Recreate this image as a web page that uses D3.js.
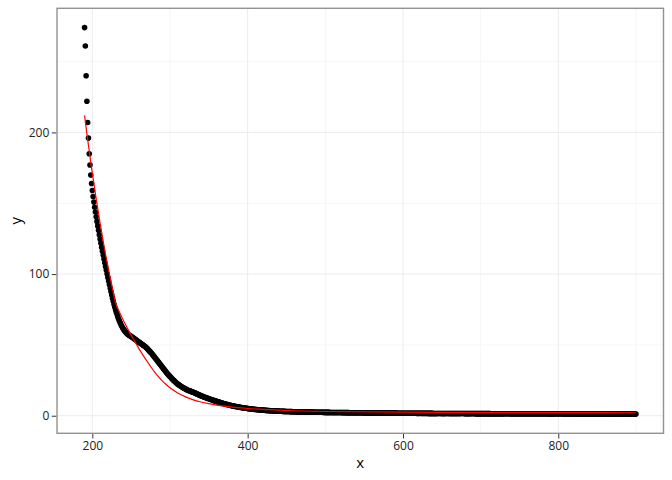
<!DOCTYPE html>
<html>
<head>
<meta charset="utf-8">
<script src="https://cdn.jsdelivr.net/npm/d3@7"></script>
<style>
html,body{margin:0;padding:0;background:#fff;}
svg{display:block;}
text{font-family:"Open Sans",sans-serif;}
</style>
</head>
<body>
<svg id="chart" width="672" height="480"></svg>
<script>
// ---------------- data ----------------
const xStart = 190;
const xEnd = 900;
const pointY = [
274,261,240,222,207,196,185,177,170,164,
159,154.8,150.8,147.2,143.8,140.5,137.2,134,130.9,127.8,
124.8,121.9,119,116.2,113.4,110.7,108,105.4,102.8,100.2,
97.6,95.1,92.6,90.1,87.7,85.3,83,80.8,78.6,76.6,
74.7,72.9,71.2,69.6,68.1,66.7,65.4,64.2,63.1,62.1,
61.2,60.4,59.7,59,58.4,57.9,57.4,57,56.6,56.3,
56,55.6,55.2,54.8,54.4,54,53.6,53.2,52.8,52.4,
52,51.6,51.2,50.8,50.4,50,49.6,49.2,48.8,48.3,
47.8,47.2,46.6,46,45.4,44.8,44.2,43.5,42.8,42.1,
41.4,40.7,40,39.3,38.6,37.9,37.2,36.5,35.8,35.1,
34.4,33.7,33,32.3,31.6,30.9,30.2,29.5,28.9,28.3,
27.7,27.1,26.5,25.9,25.3,24.8,24.3,23.8,23.3,22.8,
22.4,22,21.6,21.2,20.8,20.4,20.1,19.8,19.5,19.2,
18.9,18.6,18.3,18,17.8,17.6,17.4,17.2,17,16.8,
16.6,16.35,16.1,15.85,15.6,15.35,15.1,14.85,14.6,14.35,
14.1,13.88,13.66,13.44,13.22,13,12.8,12.6,12.4,12.2,
12,11.8,11.6,11.4,11.2,11,10.82,10.64,10.46,10.28,
10.1,9.93,9.76,9.59,9.42,9.25,9.09,8.93,8.77,8.61,
8.45,8.3,8.15,8,7.86,7.72,7.58,7.44,7.31,7.18,
7.05,6.93,6.81,6.69,6.58,6.47,6.36,6.25,6.15,6.05,
5.95,5.86,5.77,5.68,5.59,5.5,5.42,5.34,5.26,5.18,
5.1,5.03,4.96,4.89,4.82,4.75,4.68,4.62,4.56,4.5,
4.44,4.38,4.32,4.27,4.22,4.17,4.12,4.07,4.02,3.97,
3.92,3.88,3.84,3.8,3.76,3.72,3.68,3.64,3.6,3.56,
3.53,3.5,3.47,3.44,3.41,3.38,3.35,3.32,3.29,3.26,
3.23,3.2,3.17,3.14,3.12,3.1,3.08,3.06,3.04,3.02,
3,2.98,2.96,2.94,2.92,2.9,2.88,2.86,2.84,2.82,
2.8,2.78,2.76,2.74,2.72,2.7,2.69,2.68,2.67,2.66,
2.65,2.64,2.63,2.62,2.61,2.6,2.59,2.58,2.57,2.56,
2.55,2.54,2.53,2.52,2.51,2.5,2.49,2.48,2.47,2.46,
2.45,2.44,2.43,2.42,2.41,2.41,2.4,2.39,2.38,2.37,
2.36,2.35,2.35,2.34,2.33,2.33,2.32,2.31,2.31,2.3,
2.29,2.29,2.28,2.27,2.27,2.26,2.25,2.25,2.24,2.23,
2.23,2.22,2.21,2.21,2.2,2.19,2.19,2.18,2.17,2.17,
2.16,2.15,2.15,2.14,2.13,2.13,2.12,2.11,2.11,2.1,
2.09,2.09,2.08,2.07,2.07,2.06,2.05,2.05,2.04,2.03,
2.03,2.02,2.01,2.01,2,1.99,1.99,1.98,1.98,1.97,
1.96,1.96,1.95,1.95,1.94,1.93,1.93,1.92,1.92,1.91,
1.9,1.9,1.89,1.89,1.88,1.88,1.87,1.87,1.86,1.86,
1.85,1.85,1.84,1.84,1.83,1.83,1.82,1.82,1.81,1.81,
1.8,1.8,1.8,1.79,1.79,1.78,1.78,1.78,1.77,1.77,
1.76,1.76,1.75,1.75,1.75,1.74,1.74,1.73,1.73,1.73,
1.72,1.72,1.71,1.71,1.71,1.7,1.7,1.7,1.69,1.69,
1.69,1.68,1.68,1.68,1.67,1.67,1.67,1.66,1.66,1.66,
1.65,1.65,1.65,1.64,1.64,1.64,1.63,1.63,1.63,1.62,
1.62,1.62,1.61,1.61,1.61,1.6,1.6,1.6,1.6,1.59,
1.59,1.59,1.58,1.58,1.58,1.58,1.57,1.57,1.57,1.56,
1.56,1.56,1.56,1.55,1.55,1.55,1.55,1.54,1.54,1.54,
1.54,1.53,1.53,1.53,1.53,1.52,1.52,1.52,1.52,1.51,
1.51,1.51,1.51,1.5,1.5,1.5,1.5,1.5,1.49,1.49,
1.49,1.49,1.49,1.48,1.48,1.48,1.48,1.48,1.47,1.47,
1.47,1.47,1.47,1.46,1.46,1.46,1.46,1.46,1.45,1.45,
1.45,1.45,1.45,1.44,1.44,1.44,1.44,1.44,1.44,1.43,
1.43,1.43,1.43,1.43,1.43,1.42,1.42,1.42,1.42,1.42,
1.42,1.41,1.41,1.41,1.41,1.41,1.41,1.4,1.4,1.4,
1.4,1.4,1.4,1.4,1.39,1.39,1.39,1.39,1.39,1.39,
1.39,1.38,1.38,1.38,1.38,1.38,1.38,1.38,1.38,1.37,
1.37,1.37,1.37,1.37,1.37,1.37,1.37,1.37,1.36,1.36,
1.36,1.36,1.36,1.36,1.36,1.36,1.36,1.35,1.35,1.35,
1.35,1.35,1.35,1.35,1.35,1.35,1.34,1.34,1.34,1.34,
1.34,1.34,1.34,1.34,1.34,1.34,1.33,1.33,1.33,1.33,
1.33,1.33,1.33,1.33,1.33,1.32,1.32,1.32,1.32,1.32,
1.32,1.32,1.32,1.32,1.31,1.31,1.31,1.31,1.31,1.31,
1.31,1.31,1.31,1.3,1.3,1.3,1.3,1.3,1.3,1.3,
1.3,1.3,1.3,1.29,1.29,1.29,1.29,1.29,1.29,1.29,
1.29,1.29,1.28,1.28,1.28,1.28,1.28,1.28,1.28,1.28,
1.28,1.28,1.27,1.27,1.27,1.27,1.27,1.27,1.27,1.27,
1.27,1.27,1.26,1.26,1.26,1.26,1.26,1.26,1.26,1.26,
1.26,1.26,1.26,1.25,1.25,1.25,1.25,1.25,1.25,1.25,
1.25,1.25,1.25,1.25,1.24,1.24,1.24,1.24,1.24,1.24,
1.24,1.24,1.24,1.24,1.23,1.23,1.23,1.23,1.23,1.23,
1.23
];
const pointX = d3.range(xStart, xEnd + 1);

const fitX = [190,193,196,199,202,205,210,215,220,225,230,235,240,245,250,255,260,265,270,275,280,285,290,295,300,310,320,330,340,350,360,375,400,450,500,600,700,800,900];
const fitY = [212,199,187,175,164,153,136,120,105.5,92,79.5,73,67.3,62,56.8,52,47.4,43,38.8,34.8,31,27.6,24.6,22,19.7,16,13.3,11.2,9.7,8.5,7.5,6.4,5.1,3.7,3.0,2.5,2.25,2.15,2.1];

const xTicks = [200,400,600,800];
const xMinor = [300,500,700,900];
const yTicks = [0,100,200];
const yMinor = [50,150,250];
const xTitle = "x";
const yTitle = "y";

// ---------------- layout ----------------
const svg = d3.select("#chart");
const panel = {left: 57, right: 663.5, top: 8.3, bottom: 433.3};

const points = pointX.map((x, i) => ({x, y: pointY[i]}));
const fit = fitX.map((x, i) => ({x, y: fitY[i]}));

const allX = pointX.concat(fitX);
const allY = pointY.concat(fitY);
const xExt = d3.extent(allX), yExt = d3.extent(allY);
const xPad = (xExt[1] - xExt[0]) * 0.05, yPad = (yExt[1] - yExt[0]) * 0.05;

const x = d3.scaleLinear().domain([xExt[0] - xPad, xExt[1] + xPad]).range([panel.left, panel.right]);
const y = d3.scaleLinear().domain([yExt[0] - yPad, yExt[1] + yPad]).range([panel.bottom, panel.top]);

svg.append("rect").attr("x", panel.left).attr("y", panel.top)
  .attr("width", panel.right - panel.left).attr("height", panel.bottom - panel.top)
  .attr("fill", "#fff");

const grid = svg.append("g");
grid.selectAll(".vminor").data(xMinor).join("line")
  .attr("x1", d => x(d)).attr("x2", d => x(d)).attr("y1", panel.top).attr("y2", panel.bottom)
  .attr("stroke", "#f6f6f6").attr("stroke-width", 1);
grid.selectAll(".hminor").data(yMinor).join("line")
  .attr("y1", d => y(d)).attr("y2", d => y(d)).attr("x1", panel.left).attr("x2", panel.right)
  .attr("stroke", "#f6f6f6").attr("stroke-width", 1);
grid.selectAll(".vmajor").data(xTicks).join("line")
  .attr("x1", d => x(d)).attr("x2", d => x(d)).attr("y1", panel.top).attr("y2", panel.bottom)
  .attr("stroke", "#ececec").attr("stroke-width", 1);
grid.selectAll(".hmajor").data(yTicks).join("line")
  .attr("y1", d => y(d)).attr("y2", d => y(d)).attr("x1", panel.left).attr("x2", panel.right)
  .attr("stroke", "#ececec").attr("stroke-width", 1);

svg.append("g").selectAll("circle").data(points).join("circle")
  .attr("cx", d => x(d.x)).attr("cy", d => y(d.y)).attr("r", 2.8).attr("fill", "#000");

svg.append("path").datum(fit)
  .attr("d", d3.line().x(d => x(d.x)).y(d => y(d.y)).curve(d3.curveMonotoneX))
  .attr("fill", "none").attr("stroke", "#ff0000").attr("stroke-width", 1.2);

svg.append("rect").attr("x", panel.left).attr("y", panel.top)
  .attr("width", panel.right - panel.left).attr("height", panel.bottom - panel.top)
  .attr("fill", "none").attr("stroke", "#929292").attr("stroke-width", 1.4);

const xAxis = d3.axisBottom(x).tickValues(xTicks).tickSize(4.5).tickPadding(3);
const gx = svg.append("g").attr("transform", `translate(0,${panel.bottom + 0.7})`).call(xAxis);
gx.select(".domain").remove();
gx.selectAll(".tick line").attr("stroke", "#333");
gx.selectAll(".tick text").attr("fill", "#222").attr("font-size", 12).attr("font-family", "Open Sans");

const yAxis = d3.axisLeft(y).tickValues(yTicks).tickSize(4.5).tickPadding(2.5);
const gy = svg.append("g").attr("transform", `translate(${panel.left - 0.7},0)`).call(yAxis);
gy.select(".domain").remove();
gy.selectAll(".tick line").attr("stroke", "#333");
gy.selectAll(".tick text").attr("fill", "#222").attr("font-size", 12).attr("font-family", "Open Sans");

svg.append("text").attr("x", (panel.left + panel.right) / 2).attr("y", 468)
  .attr("text-anchor", "middle").attr("font-size", 15).attr("fill", "#000").text(xTitle);
svg.append("text").attr("transform", `translate(21,${(panel.top + panel.bottom) / 2}) rotate(-90)`)
  .attr("text-anchor", "middle").attr("font-size", 15).attr("fill", "#000").text(yTitle);
</script>
</body>
</html>
